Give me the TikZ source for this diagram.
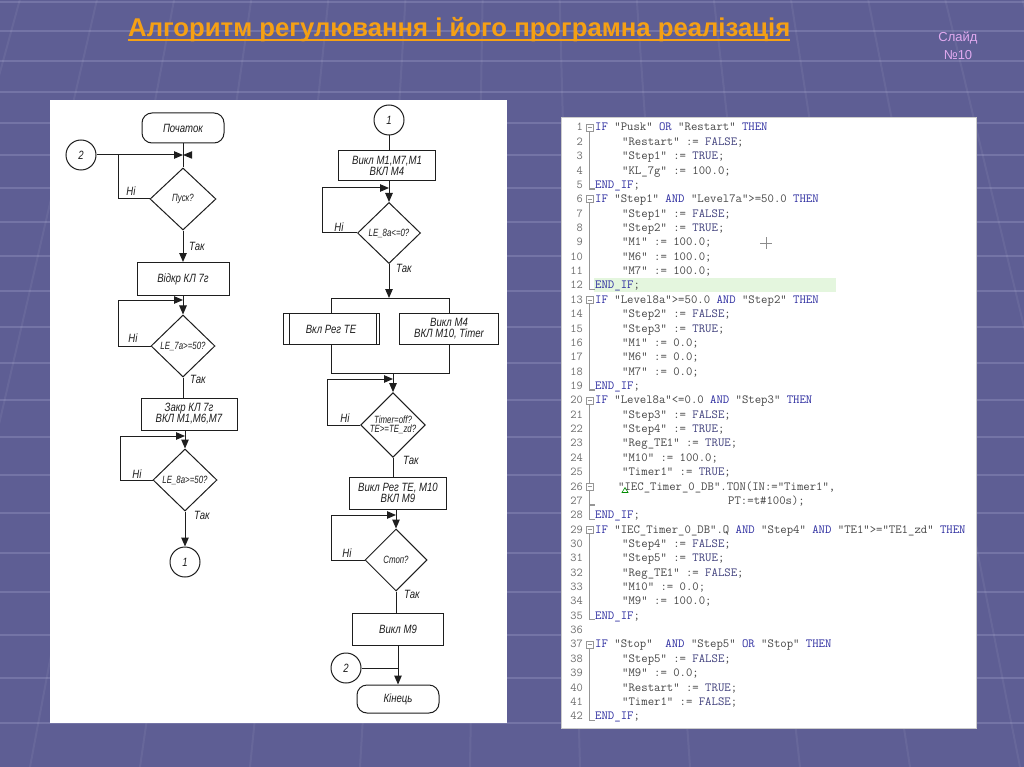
\documentclass[tikz,border=0pt]{standalone}
\usepackage{fontspec}
\usepackage{graphicx}
\setmainfont{Liberation Sans}
\usetikzlibrary{arrows.meta,shapes.geometric}
\definecolor{bgc}{RGB}{94,94,148}
\definecolor{bgl}{RGB}{116,116,166}
\definecolor{titc}{RGB}{245,160,20}
\definecolor{numc}{RGB}{225,170,240}
\definecolor{flc}{RGB}{30,30,30}
\definecolor{kwc}{RGB}{45,45,160}
\definecolor{cstc}{RGB}{65,65,125}
\definecolor{codec}{RGB}{70,70,70}
\definecolor{lnc}{RGB}{110,110,110}
\definecolor{hlc}{RGB}{228,246,222}
\definecolor{foldc}{RGB}{150,150,150}
\newcommand\sq[1]{\scalebox{0.8}[1]{#1}}
\newcommand\sqd[1]{\scalebox{0.75}[1]{#1}}
\newcommand\ffont{\fontsize{12}{12}\selectfont\itshape}
\newcommand\dfont{\fontsize{10.5}{9.5}\selectfont\itshape}
\newcommand\kw[1]{\textcolor{kwc}{#1}}
\newcommand\cst[1]{\textcolor{cstc}{#1}}
\newcommand\codeln[3]{%
  \node[lnum] (N#1) at (583,{131+14.36*(#1-1)}) {#1};
  \node[codet] (L#1) at (#2,{131+14.36*(#1-1)}) {#3};}
\begin{document}
\begin{tikzpicture}[x=1pt,y=-1pt,
  fl/.style={draw=flc,line width=1pt},
  arr/.style={fl,-{Triangle[length=9pt,width=7.5pt]}},
  proc/.style={rectangle,draw=flc,line width=1pt,inner sep=0pt,font=\ffont,text=flc,align=center},
  dec/.style={diamond,draw=flc,line width=1pt,inner sep=0pt,minimum width=64pt,minimum height=62pt,font=\dfont,text=flc,align=center},
  term/.style={rectangle,rounded corners=10pt,draw=flc,line width=1pt,inner sep=0pt,minimum width=82pt,minimum height=30pt,font=\ffont,text=flc},
  conn/.style={circle,draw=flc,line width=1pt,inner sep=0pt,minimum size=30pt,font=\ffont,text=flc},
  lbl/.style={inner sep=0pt,font=\ffont,text=flc},
  lnum/.style={anchor=base east,inner sep=0pt,font=\ttfamily\fontsize{12.1}{13}\selectfont,text=lnc},
  codet/.style={anchor=base west,inner sep=0pt,font=\ttfamily\fontsize{12.4}{13}\selectfont,text=codec},
  foldl/.style={draw=foldc,line width=1.4pt},
  foldb/.style={draw=foldc,line width=0.6pt,fill=white}
]
\useasboundingbox (0,0) rectangle (1024,767);
% background
\fill[bgc] (0,0) rectangle (1024,767);
\foreach \yy in {2,31,61,92,123,155,188,222,256,291,327,363,400,437,475,513,553,592,635,678,723}
  \draw[bgl,line width=2.5pt] (0,\yy) -- (1024,\yy);
\foreach \xb in {-300,-190,-80,30,140,250,360,470,580,690,800,910,1020,1130,1240,1350}
  \draw[white,opacity=0.06,line width=2pt] (\xb,767) -- ({512+(\xb-512)*0.7012},0);
% title
\node[anchor=base west,inner sep=0pt,font=\fontsize{25.7}{30}\selectfont\bfseries,text=titc] (title) at (128,36.5) {Алгоритм регулювання і його програмна реалізація};
\draw[titc,line width=2pt] ([yshift=-4pt]title.base west) -- ([yshift=-4pt]title.base east);
\node[font=\fontsize{13}{18}\selectfont,text=numc,align=center] (sn) at (958,46) {Слайд\\№10};
% panels
\fill[white] (50,100) rectangle (507,723);
\draw[fill=white,draw=black!20,line width=0.8pt] (561,117) rectangle (976,728);

% ===== flowchart left column =====
\node[term] (start) at (183,128) {\sq{Початок}};
\node[conn] (c2a) at (81,155) {\sq{2}};
\coordinate (j1) at (183,155);
\coordinate (k1) at (118,155);
\node[dec,minimum width=66pt] (d1) at (183,199) {\sqd{Пуск?}};
\node[lbl] (n1) at (131,191) {\sq{Ні}};
\node[lbl] (t1) at (197,246) {\sq{Так}};
\node[proc,minimum width=92pt,minimum height=33pt] (b1) at (183,279) {\sq{Відкр КЛ 7г}};
\coordinate (k2) at (118,300);
\coordinate (j2) at (183,300);
\node[dec] (d2) at (183,346) {\sqd{LE\_7a>=50?}};
\node[lbl] (n2) at (133,338) {\sq{Ні}};
\node[lbl] (t2) at (198,379) {\sq{Так}};
\node[proc,minimum width=96pt,minimum height=32pt] (b2) at (189,414) {\sq{Закр КЛ 7г}\\[-1pt]\sq{ВКЛ М1,М6,М7}};
\coordinate (k3) at (120,436);
\coordinate (j3) at (185,436);
\node[dec] (d3) at (185,480) {\sqd{LE\_8a>=50?}};
\node[lbl] (n3) at (137,474) {\sq{Ні}};
\node[lbl] (t3) at (202,515) {\sq{Так}};
\node[conn] (c1a) at (185,562) {\sq{1}};

\draw[fl] (start) -- (d1);
\draw[arr] (c2a) -- (j1);
\fill[flc] (j1) -- ++(9,-3.75) -- ++(0,7.5) -- cycle;
\draw[fl] (d1.west) -| (k1);
\draw[arr] (d1) -- (b1);
\draw[arr] (b1) -- (d2);
\draw[arr] (d2.west) -| (k2) -- (j2);
\draw[fl] (d2.south) -- (d2.south |- b2.north);
\draw[arr] (d3.north |- b2.south) -- (d3.north);
\draw[arr] (d3.west) -| (k3) -- (j3);
\draw[arr] (d3) -- (c1a);

% ===== flowchart right column =====
\node[conn] (c1b) at (389,120) {\sq{1}};
\node[proc,minimum width=97pt,minimum height=30pt] (b3) at (387,166) {\sq{Викл М1,М7,М1}\\[-1pt]\sq{ВКЛ М4}};
\coordinate (k4) at (322,188);
\coordinate (j4) at (389,188);
\node[dec,minimum width=63pt,minimum height=61pt] (d4) at (389,233) {\sqd{LE\_8a<=0?}};
\node[lbl] (n4) at (339,227) {\sq{Ні}};
\node[lbl] (t4) at (404,268) {\sq{Так}};
\coordinate (s1) at (389,298);
\node[proc,minimum width=96pt,minimum height=31pt] (b4) at (331,329) {\sq{Вкл Рег ТЕ}};
\node[proc,minimum width=99pt,minimum height=31pt] (b5) at (449,329) {\sq{Викл М4}\\[-1pt]\sq{ВКЛ М10, Timer}};
\coordinate (m1) at (393,373);
\coordinate (k5) at (327,379);
\coordinate (j5) at (393,379);
\node[dec] (d5) at (393,425) {\sqd{Timer=off?}\\\sqd{TE>=TE\_zd?}};
\node[lbl] (n5) at (345,418) {\sq{Ні}};
\node[lbl] (t5) at (411,460) {\sq{Так}};
\node[proc,minimum width=97pt,minimum height=32pt] (b6) at (398,493) {\sq{Викл Рег ТЕ, М10}\\[-1pt]\sq{ВКЛ М9}};
\coordinate (k6) at (331,515);
\coordinate (j6) at (396,515);
\node[dec,minimum width=62pt] (d6) at (396,560) {\sqd{Стоп?}};
\node[lbl] (n6) at (347,553) {\sq{Ні}};
\node[lbl] (t6) at (412,594) {\sq{Так}};
\node[proc,minimum width=91pt,minimum height=32pt] (b7) at (398,629) {\sq{Викл М9}};
\node[conn] (c2b) at (346,668) {\sq{2}};
\node[term,minimum height=28pt] (end) at (398,699) {\sq{Кінець}};

\draw[fl] (c1b) -- (c1b.south |- b3.north);
\draw[arr] (d4.north |- b3.south) -- (d4.north);
\draw[arr] (d4.west) -| (k4) -- (j4);
\draw[arr] (d4.south) -- (s1);
\draw[fl] (b4.north) -- (b4.north |- s1) -- (b5.north |- s1) -- (b5.north);
\draw[fl] ([xshift=7pt]b4.north west) -- ([xshift=7pt]b4.south west);
\draw[fl] ([xshift=-3pt]b4.north east) -- ([xshift=-3pt]b4.south east);
\draw[fl] (b4.south) -- (b4.south |- m1) -- (b5.south |- m1) -- (b5.south);
\draw[arr] (m1) -- (d5.north);
\draw[arr] (d5.west) -| (k5) -- (j5);
\draw[fl] (d5.south) -- (d5.south |- b6.north);
\draw[arr] (d6.north |- b6.south) -- (d6.north);
\draw[arr] (d6.west) -| (k6) -- (j6);
\draw[fl] (d6.south) -- (d6.south |- b7.north);
\draw[arr] (b7) -- (end);
\draw[fl] (c2b) -- (c2b.east -| b7.south);

% ===== code panel =====
\fill[hlc] (594,{127.5+14.36*11-7}) rectangle (836,{127.5+14.36*11+7});
\foreach \a/\b in {1/5,6/12,13/19,20/28,26/27,29/35,37/42}{
  \draw[foldl] (589.5,{127.5+14.36*(\a-1)+3.5}) -- (589.5,{127.5+14.36*(\b-1)+4}) -- (595,{127.5+14.36*(\b-1)+4});
}
\foreach \a in {1,6,13,20,26,29,37}{
  \draw[foldb] (586,{127.5+14.36*(\a-1)-3.5}) rectangle (593,{127.5+14.36*(\a-1)+3.5});
  \draw[draw=foldc,line width=0.6pt] (587.5,{127.5+14.36*(\a-1)}) -- (591.5,{127.5+14.36*(\a-1)});
}
\codeln{1}{595}{\kw{IF} "Pusk" \kw{OR} "Restart" \kw{THEN}}
\codeln{2}{622}{"Restart" := \cst{FALSE};}
\codeln{3}{622}{"Step1" := \cst{TRUE};}
\codeln{4}{622}{"KL\_7g" := 100.0;}
\codeln{5}{595}{\kw{END\_IF};}
\codeln{6}{595}{\kw{IF} "Step1" \kw{AND} "Level7a">=50.0 \kw{THEN}}
\codeln{7}{622}{"Step1" := \cst{FALSE};}
\codeln{8}{622}{"Step2" := \cst{TRUE};}
\codeln{9}{622}{"M1" := 100.0;}
\codeln{10}{622}{"M6" := 100.0;}
\codeln{11}{622}{"M7" := 100.0;}
\codeln{12}{595}{\kw{END\_IF};}
\codeln{13}{595}{\kw{IF} "Level8a">=50.0 \kw{AND} "Step2" \kw{THEN}}
\codeln{14}{622}{"Step2" := \cst{FALSE};}
\codeln{15}{622}{"Step3" := \cst{TRUE};}
\codeln{16}{622}{"M1" := 0.0;}
\codeln{17}{622}{"M6" := 0.0;}
\codeln{18}{622}{"M7" := 0.0;}
\codeln{19}{595}{\kw{END\_IF};}
\codeln{20}{595}{\kw{IF} "Level8a"<=0.0 \kw{AND} "Step3" \kw{THEN}}
\codeln{21}{622}{"Step3" := \cst{FALSE};}
\codeln{22}{622}{"Step4" := \cst{TRUE};}
\codeln{23}{622}{"Reg\_TE1" := \cst{TRUE};}
\codeln{24}{622}{"M10" := 100.0;}
\codeln{25}{622}{"Timer1" := \cst{TRUE};}
\codeln{26}{618}{"IEC\_Timer\_0\_DB".TON(IN:="Timer1",}
\codeln{27}{728}{PT:=t\#100s);}
\codeln{28}{595}{\kw{END\_IF};}
\codeln{29}{595}{\kw{IF} "IEC\_Timer\_0\_DB".Q \kw{AND} "Step4" \kw{AND} "TE1">="TE1\_zd" \kw{THEN}}
\codeln{30}{622}{"Step4" := \cst{FALSE};}
\codeln{31}{622}{"Step5" := \cst{TRUE};}
\codeln{32}{622}{"Reg\_TE1" := \cst{FALSE};}
\codeln{33}{622}{"M10" := 0.0;}
\codeln{34}{622}{"M9" := 100.0;}
\codeln{35}{595}{\kw{END\_IF};}
\node[lnum] (N36) at (583,{131+14.36*35}) {36};
\codeln{37}{595}{\kw{IF} "Stop"\ \ \kw{AND} "Step5" \kw{OR} "Stop" \kw{THEN}}
\codeln{38}{622}{"Step5" := \cst{FALSE};}
\codeln{39}{622}{"M9" := 0.0;}
\codeln{40}{622}{"Restart" := \cst{TRUE};}
\codeln{41}{622}{"Timer1" := \cst{FALSE};}
\codeln{42}{595}{\kw{END\_IF};}
% warning marker and cursor
\draw[green!55!black,line width=0.6pt] (622,{127.5+14.36*25+6}) -- (628,{127.5+14.36*25+6}) -- (625,{127.5+14.36*25+1}) -- cycle;
\draw[black!45,line width=0.6pt] (760,243) -- (772,243);
\draw[black!45,line width=0.6pt] (766,237) -- (766,249);
\end{tikzpicture}
\end{document}
